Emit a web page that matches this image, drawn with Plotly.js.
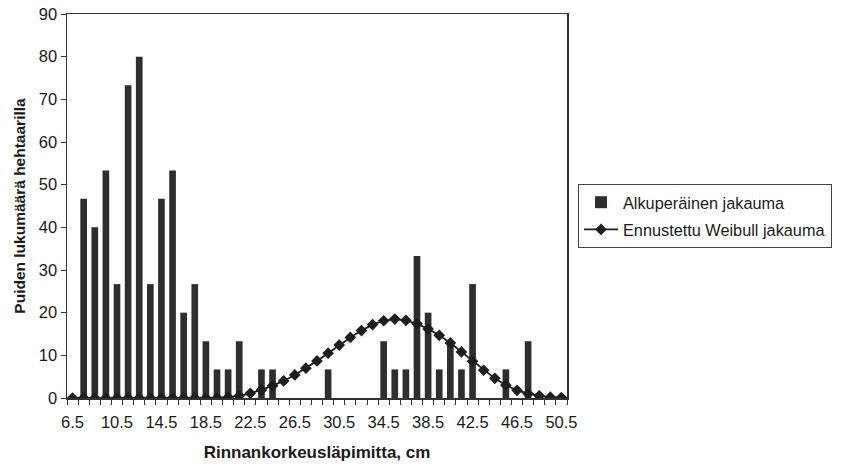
<!DOCTYPE html>
<html>
<head>
<meta charset="utf-8">
<script src="https://cdn.plot.ly/plotly-3.0.1.min.js"></script>
<style>html,body{margin:0;padding:0;background:#fff;}#chart{width:848px;height:466px;}</style>
</head>
<body>
<div id="chart"></div>
<script>
// Diameter classes (cm)
const dbh = [6.5,7.5,8.5,9.5,10.5,11.5,12.5,13.5,14.5,15.5,16.5,17.5,18.5,19.5,20.5,21.5,22.5,23.5,24.5,25.5,26.5,27.5,28.5,29.5,30.5,31.5,32.5,33.5,34.5,35.5,36.5,37.5,38.5,39.5,40.5,41.5,42.5,43.5,44.5,45.5,46.5,47.5,48.5,49.5,50.5];
// Original distribution (trees per hectare)
const original = [0,46.7,40,53.3,26.7,73.3,80,26.7,46.7,53.3,20,26.7,13.3,6.7,6.7,13.3,0,6.7,6.7,0,0,0,0,6.7,0,0,0,0,13.3,6.7,6.7,33.3,20,6.7,13.3,6.7,26.7,0,0,6.7,0,13.3,0,0,0];
// Predicted Weibull distribution
const weibull = [0,0,0,0,0,0,0,0,0,0,0,0,0,0,0.2,0.5,1.1,1.9,2.9,4.0,5.4,7.0,8.7,10.5,12.4,14.2,15.8,17.2,18.1,18.5,18.2,17.4,16.2,14.7,12.9,10.8,8.6,6.5,4.6,3.0,1.8,1.0,0.5,0.2,0.1];
const xTickVals = [6.5,10.5,14.5,18.5,22.5,26.5,30.5,34.5,38.5,42.5,46.5,50.5];
const xTickText = ["6.5","10.5","14.5","18.5","22.5","26.5","30.5","34.5","38.5","42.5","46.5","50.5"];
const yTickVals = [0,10,20,30,40,50,60,70,80,90];

const fam = "Liberation Sans, Arial, sans-serif";
const txt = "#1a1a1a";

const traces = [
  {
    type: "bar", x: dbh, y: original, name: "Alkuperäinen jakauma",
    marker: {color: "#2e2e2e", line: {width: 0}},
    width: 0.6, legendgroup: "a"
  },
  {
    type: "scatter", mode: "lines+markers", x: dbh, y: weibull, name: "Ennustettu Weibull jakauma",
    line: {color: "#1e1e1e", width: 1.8},
    marker: {symbol: "diamond", size: 9, color: "#1e1e1e"},
    legendgroup: "b"
  }
];

const layout = {
  width: 848, height: 466,
  margin: {l: 67, r: 281, t: 14, b: 68},
  paper_bgcolor: "#fff", plot_bgcolor: "#fff",
  font: {family: fam, size: 16, color: txt},
  showlegend: true,
  legend: {
    x: 1.022, y: 0.557, xanchor: "left", yanchor: "top",
    bordercolor: "#444", borderwidth: 1, bgcolor: "#fff",
    font: {family: fam, size: 16.3, color: txt},
    traceorder: "grouped", tracegroupgap: 3, itemwidth: 34
  },
  xaxis: {
    type: "linear", range: [6, 51],
    tickvals: xTickVals, ticktext: xTickText,
    ticks: "", showgrid: false, zeroline: false,
    showline: true, linecolor: "#333", linewidth: 1.5, mirror: true,
    minor: {dtick: 1, tick0: 6, ticks: "outside", ticklen: 5, tickcolor: "#333", tickwidth: 1, showgrid: false},
    tickfont: {family: fam, size: 16.5, color: txt},
    ticklabelstandoff: 9,
    title: {text: "<b>Rinnankorkeusläpimitta, cm</b>", font: {family: fam, size: 17, color: txt}, standoff: 16}
  },
  yaxis: {
    range: [0, 90], tickvals: yTickVals,
    ticks: "outside", ticklen: 5, tickcolor: "#333",
    showgrid: false, zeroline: false,
    showline: true, linecolor: "#333", linewidth: 1.5, mirror: true,
    tickfont: {family: fam, size: 16.5, color: txt},
    title: {text: "<b>Puiden lukumäärä hehtaarilla</b>", font: {family: fam, size: 15.5, color: txt}, standoff: 9}
  },
  bargap: 0.4
};

Plotly.newPlot("chart", traces, layout, {displayModeBar: false, staticPlot: true});
</script>
</body>
</html>
